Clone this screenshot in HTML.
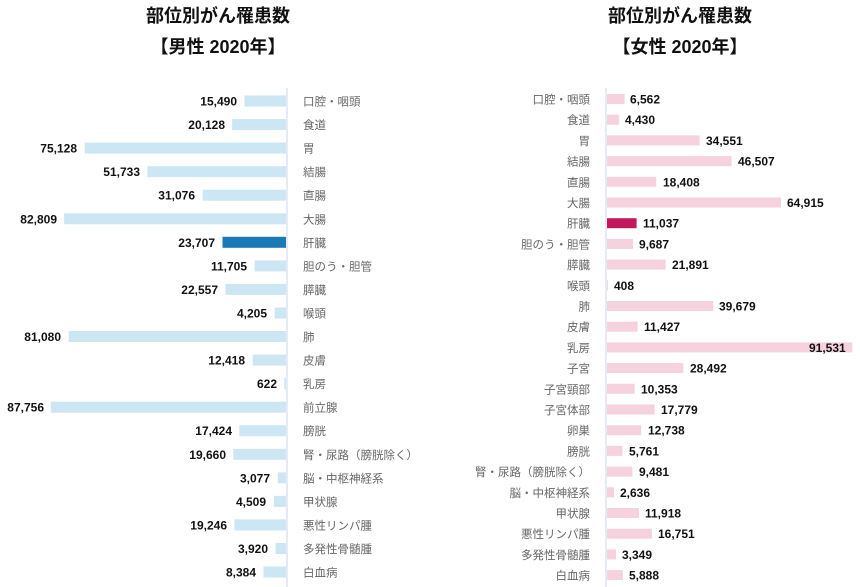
<!DOCTYPE html>
<html><head><meta charset="utf-8"><style>
body{margin:0;background:#fff}
svg{display:block}
.t{font:bold 18px "Liberation Sans","Noto Sans CJK JP",sans-serif;fill:#111}
.v{font:bold 12px "Liberation Sans","Noto Sans CJK JP",sans-serif;fill:#111}
.l{font:11.5px "Liberation Sans","Noto Sans CJK JP",sans-serif;fill:#666}
.lb{fill:#cde6f3}.rb{fill:#f5d2de}
</style></head><body>
<svg width="860" height="587" xmlns="http://www.w3.org/2000/svg">
<text class="t" x="218" y="22" text-anchor="middle">部位別がん罹患数</text>
<text class="t" x="218" y="53" text-anchor="middle">【男性 2020年】</text>
<text class="t" x="680" y="22" text-anchor="middle">部位別がん罹患数</text>
<text class="t" x="680" y="53" text-anchor="middle">【女性 2020年】</text>
<line x1="287" y1="88" x2="287" y2="587" stroke="#dde3f0" stroke-width="1.5"/>
<line x1="606" y1="88" x2="606" y2="587" stroke="#dde3f0" stroke-width="1.5"/>
<g>
<rect class="lb" x="244.5" y="95.5" width="41.5" height="11"/><text class="v" x="237" y="105.5" text-anchor="end">15,490</text><text class="l" x="303" y="105.5">口腔・咽頭</text>
<rect class="lb" x="232.1" y="119.1" width="53.9" height="11"/><text class="v" x="225" y="129.1" text-anchor="end">20,128</text><text class="l" x="303" y="129.1">食道</text>
<rect class="lb" x="84.7" y="142.6" width="201.3" height="11"/><text class="v" x="77" y="152.6" text-anchor="end">75,128</text><text class="l" x="303" y="152.6">胃</text>
<rect class="lb" x="147.4" y="166.2" width="138.6" height="11"/><text class="v" x="140" y="176.2" text-anchor="end">51,733</text><text class="l" x="303" y="176.2">結腸</text>
<rect class="lb" x="202.7" y="189.7" width="83.3" height="11"/><text class="v" x="195" y="199.7" text-anchor="end">31,076</text><text class="l" x="303" y="199.7">直腸</text>
<rect class="lb" x="64.1" y="213.3" width="221.9" height="11"/><text class="v" x="57" y="223.3" text-anchor="end">82,809</text><text class="l" x="303" y="223.3">大腸</text>
<rect fill="#1a7ab6" x="222.5" y="236.8" width="63.5" height="11"/><text class="v" x="215" y="246.8" text-anchor="end">23,707</text><text class="l" x="303" y="246.8">肝臓</text>
<rect class="lb" x="254.6" y="260.4" width="31.4" height="11"/><text class="v" x="247" y="270.4" text-anchor="end">11,705</text><text class="l" x="303" y="270.4">胆のう・胆管</text>
<rect class="lb" x="225.5" y="283.9" width="60.5" height="11"/><text class="v" x="218" y="293.9" text-anchor="end">22,557</text><text class="l" x="303" y="293.9">膵臓</text>
<rect class="lb" x="274.7" y="307.5" width="11.3" height="11"/><text class="v" x="267" y="317.5" text-anchor="end">4,205</text><text class="l" x="303" y="317.5">喉頭</text>
<rect class="lb" x="68.7" y="331" width="217.3" height="11"/><text class="v" x="61" y="341" text-anchor="end">81,080</text><text class="l" x="303" y="341">肺</text>
<rect class="lb" x="252.7" y="354.6" width="33.3" height="11"/><text class="v" x="245" y="364.6" text-anchor="end">12,418</text><text class="l" x="303" y="364.6">皮膚</text>
<rect class="lb" x="284.3" y="378.1" width="1.7" height="11"/><text class="v" x="277" y="388.1" text-anchor="end">622</text><text class="l" x="303" y="388.1">乳房</text>
<rect class="lb" x="50.8" y="401.7" width="235.2" height="11"/><text class="v" x="44" y="411.7" text-anchor="end">87,756</text><text class="l" x="303" y="411.7">前立腺</text>
<rect class="lb" x="239.3" y="425.2" width="46.7" height="11"/><text class="v" x="232" y="435.2" text-anchor="end">17,424</text><text class="l" x="303" y="435.2">膀胱</text>
<rect class="lb" x="233.3" y="448.8" width="52.7" height="11"/><text class="v" x="226" y="458.8" text-anchor="end">19,660</text><text class="l" x="303" y="458.8">腎・尿路（膀胱除く）</text>
<rect class="lb" x="277.8" y="472.3" width="8.2" height="11"/><text class="v" x="270" y="482.3" text-anchor="end">3,077</text><text class="l" x="303" y="482.3">脳・中枢神経系</text>
<rect class="lb" x="273.9" y="495.9" width="12.1" height="11"/><text class="v" x="266" y="505.9" text-anchor="end">4,509</text><text class="l" x="303" y="505.9">甲状腺</text>
<rect class="lb" x="234.4" y="519.4" width="51.6" height="11"/><text class="v" x="227" y="529.4" text-anchor="end">19,246</text><text class="l" x="303" y="529.4">悪性リンパ腫</text>
<rect class="lb" x="275.5" y="543" width="10.5" height="11"/><text class="v" x="268" y="553" text-anchor="end">3,920</text><text class="l" x="303" y="553">多発性骨髄腫</text>
<rect class="lb" x="263.5" y="566.5" width="22.5" height="11"/><text class="v" x="256" y="576.5" text-anchor="end">8,384</text><text class="l" x="303" y="576.5">白血病</text>
</g>
<g>
<rect class="rb" x="607" y="94" width="17.6" height="10"/><text class="v" x="630" y="103.5">6,562</text><text class="l" x="590" y="103.5" text-anchor="end">口腔・咽頭</text>
<rect class="rb" x="607" y="114.7" width="11.9" height="10"/><text class="v" x="625" y="124.2">4,430</text><text class="l" x="590" y="124.2" text-anchor="end">食道</text>
<rect class="rb" x="607" y="135.4" width="92.6" height="10"/><text class="v" x="706" y="144.9">34,551</text><text class="l" x="590" y="144.9" text-anchor="end">胃</text>
<rect class="rb" x="607" y="156.1" width="124.6" height="10"/><text class="v" x="738" y="165.6">46,507</text><text class="l" x="590" y="165.6" text-anchor="end">結腸</text>
<rect class="rb" x="607" y="176.8" width="49.3" height="10"/><text class="v" x="663" y="186.3">18,408</text><text class="l" x="590" y="186.3" text-anchor="end">直腸</text>
<rect class="rb" x="607" y="197.5" width="174" height="10"/><text class="v" x="787" y="207">64,915</text><text class="l" x="590" y="207" text-anchor="end">大腸</text>
<rect fill="#c2185b" x="607" y="218.2" width="29.6" height="10"/><text class="v" x="643" y="227.7">11,037</text><text class="l" x="590" y="227.7" text-anchor="end">肝臓</text>
<rect class="rb" x="607" y="238.9" width="26" height="10"/><text class="v" x="639" y="248.4">9,687</text><text class="l" x="590" y="248.4" text-anchor="end">胆のう・胆管</text>
<rect class="rb" x="607" y="259.6" width="58.7" height="10"/><text class="v" x="672" y="269.1">21,891</text><text class="l" x="590" y="269.1" text-anchor="end">膵臓</text>
<rect class="rb" x="607" y="280.3" width="1.1" height="10"/><text class="v" x="614" y="289.8">408</text><text class="l" x="590" y="289.8" text-anchor="end">喉頭</text>
<rect class="rb" x="607" y="301" width="106.3" height="10"/><text class="v" x="719" y="310.5">39,679</text><text class="l" x="590" y="310.5" text-anchor="end">肺</text>
<rect class="rb" x="607" y="321.7" width="30.6" height="10"/><text class="v" x="644" y="331.2">11,427</text><text class="l" x="590" y="331.2" text-anchor="end">皮膚</text>
<rect class="rb" x="607" y="342.4" width="245.3" height="10"/><text class="v" x="809" y="351.9">91,531</text><text class="l" x="590" y="351.9" text-anchor="end">乳房</text>
<rect class="rb" x="607" y="363.1" width="76.4" height="10"/><text class="v" x="690" y="372.6">28,492</text><text class="l" x="590" y="372.6" text-anchor="end">子宮</text>
<rect class="rb" x="607" y="383.8" width="27.7" height="10"/><text class="v" x="641" y="393.3">10,353</text><text class="l" x="590" y="393.3" text-anchor="end">子宮頸部</text>
<rect class="rb" x="607" y="404.5" width="47.6" height="10"/><text class="v" x="661" y="414">17,779</text><text class="l" x="590" y="414" text-anchor="end">子宮体部</text>
<rect class="rb" x="607" y="425.2" width="34.1" height="10"/><text class="v" x="648" y="434.7">12,738</text><text class="l" x="590" y="434.7" text-anchor="end">卵巣</text>
<rect class="rb" x="607" y="445.9" width="15.4" height="10"/><text class="v" x="629" y="455.4">5,761</text><text class="l" x="590" y="455.4" text-anchor="end">膀胱</text>
<rect class="rb" x="607" y="466.6" width="25.4" height="10"/><text class="v" x="639" y="476.1">9,481</text><text class="l" x="590" y="476.1" text-anchor="end">腎・尿路（膀胱除く）</text>
<rect class="rb" x="607" y="487.3" width="7.1" height="10"/><text class="v" x="620" y="496.8">2,636</text><text class="l" x="590" y="496.8" text-anchor="end">脳・中枢神経系</text>
<rect class="rb" x="607" y="508" width="31.9" height="10"/><text class="v" x="645" y="517.5">11,918</text><text class="l" x="590" y="517.5" text-anchor="end">甲状腺</text>
<rect class="rb" x="607" y="528.7" width="44.9" height="10"/><text class="v" x="658" y="538.2">16,751</text><text class="l" x="590" y="538.2" text-anchor="end">悪性リンパ腫</text>
<rect class="rb" x="607" y="549.4" width="9" height="10"/><text class="v" x="622" y="558.9">3,349</text><text class="l" x="590" y="558.9" text-anchor="end">多発性骨髄腫</text>
<rect class="rb" x="607" y="570.1" width="15.8" height="10"/><text class="v" x="629" y="579.6">5,888</text><text class="l" x="590" y="579.6" text-anchor="end">白血病</text>
</g>
</svg>
</body></html>
